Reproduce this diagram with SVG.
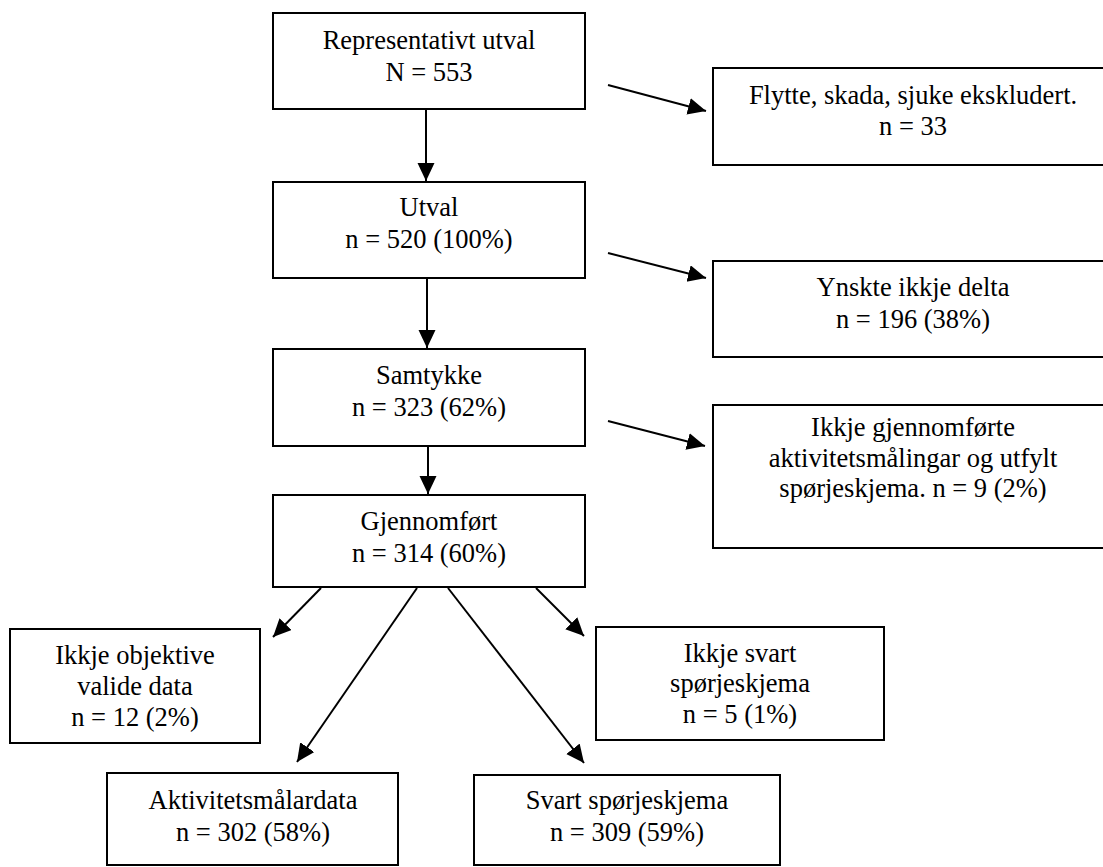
<svg xmlns="http://www.w3.org/2000/svg" width="1103" height="867" viewBox="0 0 1103 867">
<style>
.box{fill:#fff;stroke:#000;stroke-width:2}
.t{font-family:'Liberation Serif','Times New Roman','DejaVu Serif',serif;font-size:26.5px;fill:#000;text-anchor:middle}
.c{stroke:#000;stroke-width:2;fill:none;marker-end:url(#ah)}
</style>
<defs>
<marker id="ah" markerUnits="userSpaceOnUse" markerWidth="19" markerHeight="18" refX="18" refY="8.5" orient="auto">
<path d="M0,0 L18,8.5 L0,17 z" fill="#000"/>
</marker>
</defs>
<rect width="1103" height="867" fill="#fff"/>
<g id="connectors">
<line class="c" x1="426" y1="110" x2="426" y2="181"/>
<line class="c" x1="427" y1="279" x2="427" y2="348"/>
<line class="c" x1="428" y1="447" x2="428" y2="494"/>
<line class="c" x1="608" y1="85" x2="706" y2="111"/>
<line class="c" x1="608" y1="253" x2="706" y2="278"/>
<line class="c" x1="608" y1="421" x2="705" y2="446"/>
<line class="c" x1="321" y1="588" x2="273" y2="637"/>
<line class="c" x1="417" y1="588" x2="297" y2="762"/>
<line class="c" x1="448" y1="588" x2="584" y2="763"/>
<line class="c" x1="536" y1="588" x2="584" y2="636"/>
</g>
<g id="n1" font-family="Liberation Serif, serif"><rect class="box" x="273" y="13" width="312" height="96"/>
<text class="t" x="429" y="49">Representativt utval</text><text class="t" x="429" y="81">N = 553</text></g>
<g id="n2"><rect class="box" x="273" y="182" width="312" height="96"/>
<text class="t" x="429" y="216">Utval</text><text class="t" x="429" y="248">n = 520 (100%)</text></g>
<g id="n3"><rect class="box" x="273" y="349" width="312" height="97"/>
<text class="t" x="429" y="384">Samtykke</text><text class="t" x="429" y="416">n = 323 (62%)</text></g>
<g id="n4"><rect class="box" x="273" y="495" width="312" height="92"/>
<text class="t" x="429" y="530">Gjennomført</text><text class="t" x="429" y="562">n = 314 (60%)</text></g>
<g id="r1"><rect class="box" x="713" y="68" width="400" height="97"/>
<text class="t" x="913" y="104">Flytte, skada, sjuke ekskludert.</text><text class="t" x="913" y="135">n = 33</text></g>
<g id="r2"><rect class="box" x="713" y="261" width="400" height="96"/>
<text class="t" x="913" y="296">Ynskte ikkje delta</text><text class="t" x="913" y="328">n = 196 (38%)</text></g>
<g id="r3"><rect class="box" x="713" y="405" width="400" height="143"/>
<text class="t" x="913" y="436">Ikkje gjennomførte</text><text class="t" x="913" y="467">aktivitetsmålingar og utfylt</text><text class="t" x="913" y="497">spørjeskjema. n = 9 (2%)</text></g>
<g id="b1"><rect class="box" x="10" y="629" width="250" height="114"/>
<text class="t" x="135" y="664">Ikkje objektive</text><text class="t" x="135" y="695">valide data</text><text class="t" x="135" y="726">n = 12 (2%)</text></g>
<g id="b2"><rect class="box" x="596" y="627" width="288" height="113"/>
<text class="t" x="740" y="662">Ikkje svart</text><text class="t" x="740" y="692">spørjeskjema</text><text class="t" x="740" y="723">n = 5 (1%)</text></g>
<g id="b3"><rect class="box" x="107" y="773" width="291" height="92"/>
<text class="t" x="253" y="809">Aktivitetsmålardata</text><text class="t" x="253" y="841">n = 302 (58%)</text></g>
<g id="b4"><rect class="box" x="474" y="775" width="306" height="90"/>
<text class="t" x="627" y="809">Svart spørjeskjema</text><text class="t" x="627" y="841">n = 309 (59%)</text></g>
</svg>
